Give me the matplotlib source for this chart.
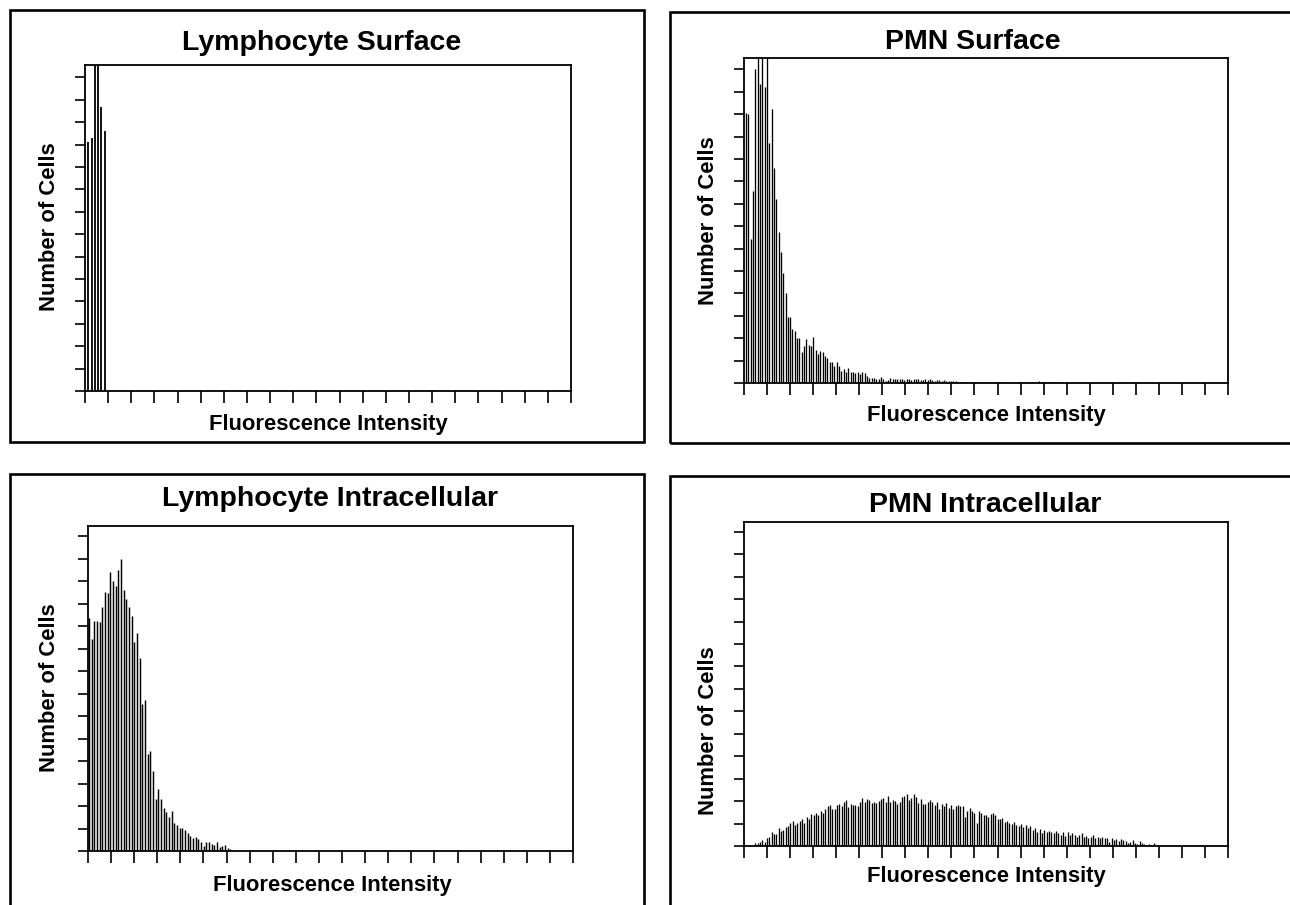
import numpy as np
import matplotlib
matplotlib.use("Agg")
import matplotlib.pyplot as plt
from matplotlib.patches import Rectangle

plt.rcParams['font.family'] = ['Liberation Sans', 'DejaVu Sans']

# ---------------- data (heights in y-tick units) ----------------
titles = ["Lymphocyte Surface", "PMN Surface", "Lymphocyte Intracellular", "PMN Intracellular"]
x_label = "Fluorescence Intensity"
y_label = "Number of Cells"

lymph_surface = [11.1, 11.3, 16.0, 16.0, 12.7, 11.6]

lymph_intra = [10.36, 9.42, 10.24, 10.24, 10.2, 10.83, 11.53, 11.47, 12.4, 12.0, 11.76, 12.5, 13.0,
               11.62, 11.22, 10.83, 10.46, 9.3, 9.67, 8.57, 6.55, 6.73, 4.29, 4.46, 3.57, 2.32,
               2.74, 2.32, 1.93, 1.73, 1.53, 1.79, 1.26, 1.16, 1.04, 1.01, 0.95, 0.79, 0.67, 0.57,
               0.64, 0.52, 0.42, 0.24, 0.4, 0.42, 0.3, 0.27, 0.39, 0.19, 0.22, 0.27, 0.15, 0.1]

pmn_surface = [12.04, 12.0, 6.45, 8.57, 14.0, 16.0, 13.37, 16.0, 13.22, 16.0, 10.7, 12.21, 9.58,
               8.2, 6.75, 5.85, 4.93, 4.01, 2.93, 2.94, 2.41, 2.32, 1.99, 2.02, 1.4, 1.66, 1.96,
               1.69, 1.63, 2.04, 1.49, 1.29, 1.44, 1.40, 1.19, 1.10, 0.92, 0.95, 0.77, 0.92, 0.77,
               0.55, 0.62, 0.48, 0.65, 0.51, 0.48, 0.45, 0.48, 0.40, 0.48, 0.45, 0.30, 0.21, 0.21,
               0.22, 0.16, 0.19, 0.25, 0.19, 0.10, 0.13, 0.22, 0.19, 0.16, 0.19, 0.19, 0.16, 0.13,
               0.19, 0.16, 0.13, 0.16, 0.19, 0.16, 0.13, 0.13, 0.16, 0.13, 0.16, 0.13, 0.10, 0.13,
               0.13, 0.10, 0.13, 0.10, 0.07, 0.07, 0.10, 0.07,
               0.05, 0.04, 0.06, 0.03, 0.05, 0.0, 0.04, 0.06, 0.03, 0.05, 0.04, 0.03, 0.05, 0.04,
               0.0, 0.03, 0.05, 0.04, 0.03, 0.0, 0.04, 0.03, 0.05, 0.0, 0.0, 0.04, 0.03, 0.05,
               0.06, 0.03, 0.0, 0.0, 0.04, 0.0, 0.05, 0.07, 0.04, 0.03, 0.0, 0.0, 0.03, 0.04, 0.0,
               0.03, 0.04, 0.03]

pmn_intra = [0.12, 0.13, 0.16, 0.27, 0.19, 0.37, 0.42, 0.61, 0.52, 0.54, 0.82, 0.67, 0.70, 0.84,
             0.90, 1.03, 1.13, 0.93, 1.01, 1.13, 1.22, 1.04, 1.31, 1.19, 1.43, 1.37, 1.49, 1.36,
             1.58, 1.46, 1.64, 1.76, 1.82, 1.67, 1.64, 1.82, 1.87, 1.79, 1.94, 2.03, 1.73, 1.88,
             1.81, 1.84, 1.76, 1.94, 2.12, 1.94, 2.09, 2.03, 1.91, 1.97, 1.90, 1.99, 2.09, 2.15,
             1.96, 2.24, 1.94, 2.06, 1.99, 1.85, 1.94, 2.18, 2.21, 2.30, 2.06, 2.15, 2.33, 2.18,
             1.91, 2.09, 1.85, 1.85, 1.97, 2.03, 1.97, 1.82, 1.97, 1.64, 1.88, 1.76, 1.91, 1.70,
             1.82, 1.64, 1.76, 1.82, 1.79, 1.76, 1.31, 1.54, 1.69, 1.55,
             1.49, 1.01, 1.55, 1.46, 1.40, 1.37, 1.31, 1.43, 1.46, 1.37, 1.22, 1.19, 1.24, 1.07,
             1.13, 1.04, 0.99, 1.09, 0.94, 0.87, 0.97, 0.84, 0.94, 0.79, 0.90, 0.72, 0.82, 0.64,
             0.75, 0.60, 0.72, 0.64, 0.69, 0.63, 0.57, 0.66, 0.57, 0.51, 0.63, 0.45, 0.64, 0.48,
             0.57, 0.51, 0.42, 0.48, 0.60, 0.39, 0.45, 0.34, 0.42, 0.48, 0.36, 0.39, 0.36, 0.39,
             0.34, 0.36, 0.18, 0.34, 0.27, 0.33, 0.24, 0.30, 0.27, 0.21, 0.15, 0.18, 0.27, 0.12,
             0.09, 0.21, 0.12, 0.09, 0.06, 0.09, 0.05, 0.15]

n_xticks = 21
n_yticks = 14

# ---------------- layout ----------------
W, H = 1290, 905
fig = plt.figure(figsize=(W / 100, H / 100), dpi=100)


def fx(px):
    return px / W


def fy(py):
    return 1 - py / H


panels = [
    dict(title=titles[0], counts=lymph_surface, x0=0.143, step=0.1417, lw=1.3,
         axes=(85, 65, 571, 391), tick_px=22.4, box=(10, 10, 644, 442),
         title_xy=(322, 43), xlabel_xy=(328, 424), ylabel_xy=(50, 227)),
    dict(title=titles[1], counts=pmn_surface, x0=0.082, step=0.1011, lw=0.95,
         axes=(744, 58, 1228, 383), tick_px=22.4, box=(670, 12, 1305, 443),
         title_xy=(973, 42), xlabel_xy=(986, 415), ylabel_xy=(708, 221)),
    dict(title=titles[2], counts=lymph_intra, x0=0.046, step=0.1155, lw=1.05,
         axes=(88, 526, 573, 851), tick_px=22.5, box=(10, 474, 644, 920),
         title_xy=(330, 499), xlabel_xy=(332, 885), ylabel_xy=(50, 688)),
    dict(title=titles[3], counts=pmn_intra, x0=0.49, step=0.1011, lw=0.95,
         axes=(744, 522, 1228, 846), tick_px=22.45, box=(670, 476, 1305, 920),
         title_xy=(985, 505), xlabel_xy=(986, 876), ylabel_xy=(708, 731)),
]

title_fs = 20.5
label_fs = 15.8

for p in panels:
    l, t, r, b = p["axes"]
    ax = fig.add_axes([fx(l), fy(b), (r - l) / W, (b - t) / H])
    counts = np.asarray(p["counts"], dtype=float)
    xs = p["x0"] + p["step"] * np.arange(len(counts))
    ax.vlines(xs, 0, counts, colors="black", linewidth=p["lw"])
    ax.set_xlim(0, n_xticks)
    ax.set_ylim(0, (b - t) / p["tick_px"])
    ax.set_xticks(np.arange(0, n_xticks + 1))
    ax.set_yticks(np.arange(0, n_yticks + 1))
    ax.set_xticklabels([])
    ax.set_yticklabels([])
    ax.tick_params(axis="x", direction="out", length=8.5, width=1.2, color="black")
    ax.tick_params(axis="y", direction="out", length=7.2, width=1.2, color="black")
    for s in ax.spines.values():
        s.set_linewidth(1.3)
        s.set_color("black")

    bl, bt, br, bb = p["box"]
    fig.patches.append(Rectangle((fx(bl), fy(bb)), (br - bl) / W, (bb - bt) / H,
                                 transform=fig.transFigure, fill=False,
                                 edgecolor="black", linewidth=1.9, clip_on=False))

    fig.text(fx(p["title_xy"][0]), fy(p["title_xy"][1]), p["title"], ha="center", va="center",
             fontsize=title_fs, fontweight="bold")
    fig.text(fx(p["xlabel_xy"][0]), fy(p["xlabel_xy"][1]), x_label, ha="center", va="center",
             fontsize=label_fs, fontweight="bold")
    fig.text(fx(p["ylabel_xy"][0]), fy(p["ylabel_xy"][1]), y_label, ha="center", va="center",
             rotation=90, fontsize=label_fs, fontweight="bold")

fig.savefig("out.png", dpi=100)
